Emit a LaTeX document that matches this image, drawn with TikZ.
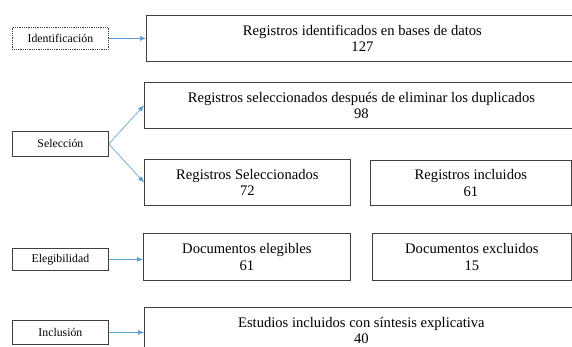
\documentclass[tikz,border=0pt]{standalone}
\usepackage{fontspec}
\setmainfont{Liberation Serif}
\usetikzlibrary{arrows.meta}
\definecolor{flecha}{RGB}{91,155,213}
\definecolor{borde}{RGB}{64,64,64}
\tikzset{
  caja/.style={draw=borde,line width=0.8pt,anchor=north west,align=center,inner sep=0pt,font=\fontsize{14.6}{16.5}\selectfont},
  fase/.style={draw=borde,line width=0.8pt,anchor=north west,align=center,inner sep=0pt,minimum width=96pt,font=\fontsize{11.8}{13}\selectfont},
  flechita/.style={->,draw=flecha,line width=0.6pt}
}
\begin{document}
\begin{tikzpicture}[x=1pt,y=-1pt,>={Latex[length=6pt,width=5pt]}]
		\clip (0,0) rectangle (572,347);
		\fill[white] (0,0) rectangle (572,347);
		% fases
		\node[fase,densely dotted,minimum height=22pt] (ident) at (12,27) {Identificación};
		\node[fase,minimum height=25pt] (selec) at (12,131) {Selección};
		\node[fase,minimum height=22pt] (eleg) at (12,248) {Elegibilidad};
		\node[fase,minimum height=24pt] (incl) at (12,320) {Inclusión};
		% cajas
		\node[caja,minimum width=432pt,minimum height=46pt] (reg) at (146,15) {Registros identificados en bases de datos\\127};
		\node[caja,minimum width=434pt,minimum height=46pt] (regsel) at (144,82) {Registros seleccionados después de eliminar los duplicados\\98};
		\node[caja,minimum width=206pt,minimum height=46pt] (sel) at (144,159) {Registros Seleccionados\\72};
		\node[caja,minimum width=201pt,minimum height=45pt] (inc) at (370,160) {Registros incluidos\\61};
		\node[caja,minimum width=207pt,minimum height=47pt] (doceleg) at (143,233) {Documentos elegibles\\61};
		\node[caja,minimum width=199pt,minimum height=47pt] (docexc) at (372,233) {Documentos excluidos\\15};
		\node[caja,minimum width=434pt,minimum height=46pt] (est) at (144,307) {Estudios incluidos con síntesis explicativa\\40};
		% flechas
		\draw[flechita] (ident.east)--(ident.east -| reg.west);
		\draw[flechita] (selec.east)--(regsel.west);
		\draw[flechita] (selec.east)--(sel.west);
		\draw[flechita] (eleg.east)--(eleg.east -| doceleg.west);
		\draw[flechita] (incl.east)--(incl.east -| est.west);
		\end{tikzpicture}
\end{document}
